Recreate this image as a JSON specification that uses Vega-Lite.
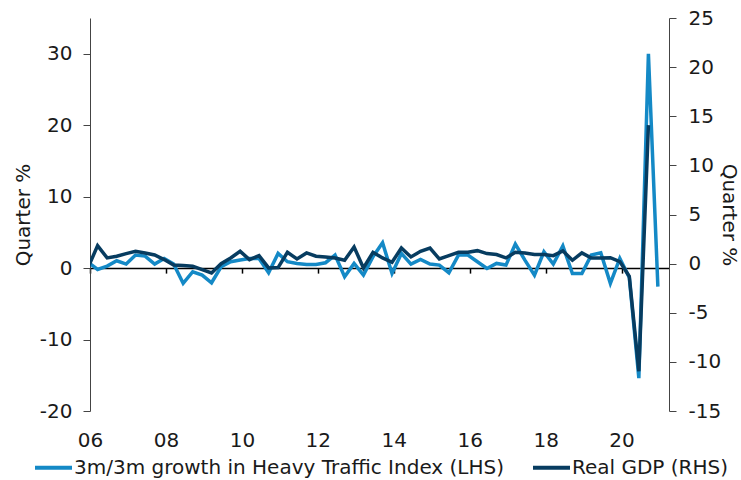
{
  "$schema": "https://vega.github.io/schema/vega-lite/v6.json",
  "width": 579,
  "height": 393,
  "autosize": {"type": "none"},
  "padding": {"left": 90, "top": 18, "right": 72, "bottom": 69},
  "config": {
    "font": "DejaVu Sans",
    "view": {"stroke": null},
    "axis": {
      "labelFont": "DejaVu Sans",
      "titleFont": "DejaVu Sans",
      "labelFontSize": 20,
      "titleFontSize": 20,
      "titleFontWeight": "normal",
      "labelColor": "#1a1a1a",
      "titleColor": "#1a1a1a",
      "domainColor": "#444444",
      "tickColor": "#444444",
      "grid": false
    }
  },
  "data": {
    "values": [
      {"d": "2005-12-15", "hti": 0.82, "gdp": -0.36},
      {"d": "2006-03-15", "hti": -0.19, "gdp": 1.83},
      {"d": "2006-06-15", "hti": 0.28, "gdp": 0.58},
      {"d": "2006-09-15", "hti": 1.03, "gdp": 0.75},
      {"d": "2006-12-15", "hti": 0.56, "gdp": 1.02},
      {"d": "2007-03-15", "hti": 1.82, "gdp": 1.25},
      {"d": "2007-06-15", "hti": 1.68, "gdp": 1.09},
      {"d": "2007-09-15", "hti": 0.56, "gdp": 0.88},
      {"d": "2007-12-15", "hti": 1.35, "gdp": 0.41},
      {"d": "2008-03-15", "hti": 0.56, "gdp": -0.14},
      {"d": "2008-06-15", "hti": -2.14, "gdp": -0.2},
      {"d": "2008-09-15", "hti": -0.51, "gdp": -0.27},
      {"d": "2008-12-15", "hti": -0.98, "gdp": -0.61},
      {"d": "2009-03-15", "hti": -2.05, "gdp": -0.95},
      {"d": "2009-06-15", "hti": 0.19, "gdp": 0.0},
      {"d": "2009-09-15", "hti": 0.89, "gdp": 0.58},
      {"d": "2009-12-15", "hti": 1.12, "gdp": 1.25},
      {"d": "2010-03-15", "hti": 1.35, "gdp": 0.41},
      {"d": "2010-06-15", "hti": 1.35, "gdp": 0.81},
      {"d": "2010-09-15", "hti": -0.65, "gdp": -0.44},
      {"d": "2010-12-15", "hti": 2.05, "gdp": -0.4},
      {"d": "2011-03-15", "hti": 0.89, "gdp": 1.15},
      {"d": "2011-06-15", "hti": 0.65, "gdp": 0.47},
      {"d": "2011-09-15", "hti": 0.51, "gdp": 1.09},
      {"d": "2011-12-15", "hti": 0.51, "gdp": 0.75},
      {"d": "2012-03-15", "hti": 0.75, "gdp": 0.68},
      {"d": "2012-06-15", "hti": 1.82, "gdp": 0.58},
      {"d": "2012-09-15", "hti": -1.21, "gdp": 0.34},
      {"d": "2012-12-15", "hti": 0.65, "gdp": 1.7},
      {"d": "2013-03-15", "hti": -0.98, "gdp": -0.44},
      {"d": "2013-06-15", "hti": 1.6, "gdp": 1.15},
      {"d": "2013-09-15", "hti": 3.54, "gdp": 0.58},
      {"d": "2013-12-15", "hti": -0.75, "gdp": 0.14},
      {"d": "2014-03-15", "hti": 2.05, "gdp": 1.59},
      {"d": "2014-06-15", "hti": 0.56, "gdp": 0.68},
      {"d": "2014-09-15", "hti": 1.21, "gdp": 1.25},
      {"d": "2014-12-15", "hti": 0.56, "gdp": 1.59},
      {"d": "2015-03-15", "hti": 0.42, "gdp": 0.47},
      {"d": "2015-06-15", "hti": -0.65, "gdp": 0.81},
      {"d": "2015-09-15", "hti": 1.82, "gdp": 1.15},
      {"d": "2015-12-15", "hti": 1.82, "gdp": 1.15},
      {"d": "2016-03-15", "hti": 0.89, "gdp": 1.32},
      {"d": "2016-06-15", "hti": -0.05, "gdp": 1.02},
      {"d": "2016-09-15", "hti": 0.65, "gdp": 0.92},
      {"d": "2016-12-15", "hti": 0.42, "gdp": 0.58},
      {"d": "2017-03-15", "hti": 3.36, "gdp": 1.15},
      {"d": "2017-06-15", "hti": 1.12, "gdp": 1.09},
      {"d": "2017-09-15", "hti": -0.98, "gdp": 0.92},
      {"d": "2017-12-15", "hti": 2.28, "gdp": 0.92},
      {"d": "2018-03-15", "hti": 0.56, "gdp": 0.81},
      {"d": "2018-06-15", "hti": 3.1, "gdp": 1.3},
      {"d": "2018-09-15", "hti": -0.75, "gdp": 0.34},
      {"d": "2018-12-15", "hti": -0.75, "gdp": 1.09},
      {"d": "2019-03-15", "hti": 1.82, "gdp": 0.58},
      {"d": "2019-06-15", "hti": 2.14, "gdp": 0.58},
      {"d": "2019-09-15", "hti": -2.14, "gdp": 0.6},
      {"d": "2019-12-15", "hti": 1.35, "gdp": 0.2},
      {"d": "2020-03-15", "hti": -1.3, "gdp": -1.3},
      {"d": "2020-06-15", "hti": -15.4, "gdp": -10.95},
      {"d": "2020-09-15", "hti": 30.0, "gdp": 14.1},
      {"d": "2020-12-15", "hti": -2.6}
    ]
  },
  "layer": [
    {
      "mark": {"type": "line", "strokeWidth": 3.5, "clip": true, "strokeJoin": "miter"},
      "encoding": {
        "x": {
          "field": "d",
          "type": "temporal",
          "scale": {
            "type": "utc",
            "domain": [
              {"year": 2006, "month": 1, "date": 1, "utc": true},
              {"year": 2021, "month": 4, "date": 1, "utc": true}
            ]
          },
          "axis": {
            "orient": "bottom",
            "title": null,
            "domain": false,
            "ticks": false,
            "tickSize": 0,
            "labelPadding": 19.5,
            "labelFlush": false,
            "labelOverlap": false,
            "format": "%y",
            "values": [
              {"year": 2006, "utc": true},
              {"year": 2008, "utc": true},
              {"year": 2010, "utc": true},
              {"year": 2012, "utc": true},
              {"year": 2014, "utc": true},
              {"year": 2016, "utc": true},
              {"year": 2018, "utc": true},
              {"year": 2020, "utc": true}
            ]
          }
        },
        "y": {
          "field": "hti",
          "type": "quantitative",
          "scale": {"domain": [-20, 35], "nice": false, "zero": false},
          "axis": {
            "orient": "left",
            "title": "Quarter %",
            "values": [-20, -10, 0, 10, 20, 30],
            "labelExpr": "toString(datum.value)",
            "tickSize": 7,
            "labelPadding": 11,
            "titlePadding": 6
          }
        },
        "color": {
          "datum": "3m/3m growth in Heavy Traffic Index (LHS)",
          "type": "nominal",
          "scale": {
            "domain": ["3m/3m growth in Heavy Traffic Index (LHS)", "Real GDP (RHS)"],
            "range": ["#1489c6", "#073c60"]
          },
          "legend": {
            "title": null,
            "orient": "none",
            "direction": "horizontal",
            "legendX": -57,
            "legendY": 429,
            "symbolType": "stroke",
            "symbolSize": 1369,
            "symbolStrokeWidth": 4,
            "labelFont": "DejaVu Sans",
            "labelFontSize": 20,
            "labelColor": "#1a1a1a",
            "labelLimit": 0,
            "labelOffset": 0,
            "columnPadding": 20
          }
        }
      }
    },
    {
      "mark": {"type": "line", "strokeWidth": 3.5, "clip": true, "strokeJoin": "miter"},
      "encoding": {
        "x": {
          "field": "d",
          "type": "temporal",
          "axis": {
            "orient": "bottom",
            "title": null,
            "offset": -142.9,
            "labels": false,
            "domain": true,
            "domainColor": "#000000",
            "domainWidth": 1.5,
            "ticks": true,
            "tickSize": 5,
            "tickColor": "#000000",
            "tickWidth": 1.5,
            "values": [
              {"year": 2006, "utc": true},
              {"year": 2008, "utc": true},
              {"year": 2010, "utc": true},
              {"year": 2012, "utc": true},
              {"year": 2014, "utc": true},
              {"year": 2016, "utc": true},
              {"year": 2018, "utc": true},
              {"year": 2020, "utc": true}
            ]
          }
        },
        "y": {
          "field": "gdp",
          "type": "quantitative",
          "scale": {"domain": [-15, 25], "nice": false, "zero": false},
          "axis": {
            "orient": "right",
            "title": "Quarter %",
            "values": [-15, -10, -5, 0, 5, 10, 15, 20, 25],
            "labelExpr": "toString(datum.value)",
            "tickSize": 7,
            "labelPadding": 12,
            "titlePadding": -2,
            "titleAngle": 90
          }
        },
        "color": {"datum": "Real GDP (RHS)", "type": "nominal"}
      }
    }
  ],
  "resolve": {"scale": {"y": "independent"}, "axis": {"x": "independent"}}
}
